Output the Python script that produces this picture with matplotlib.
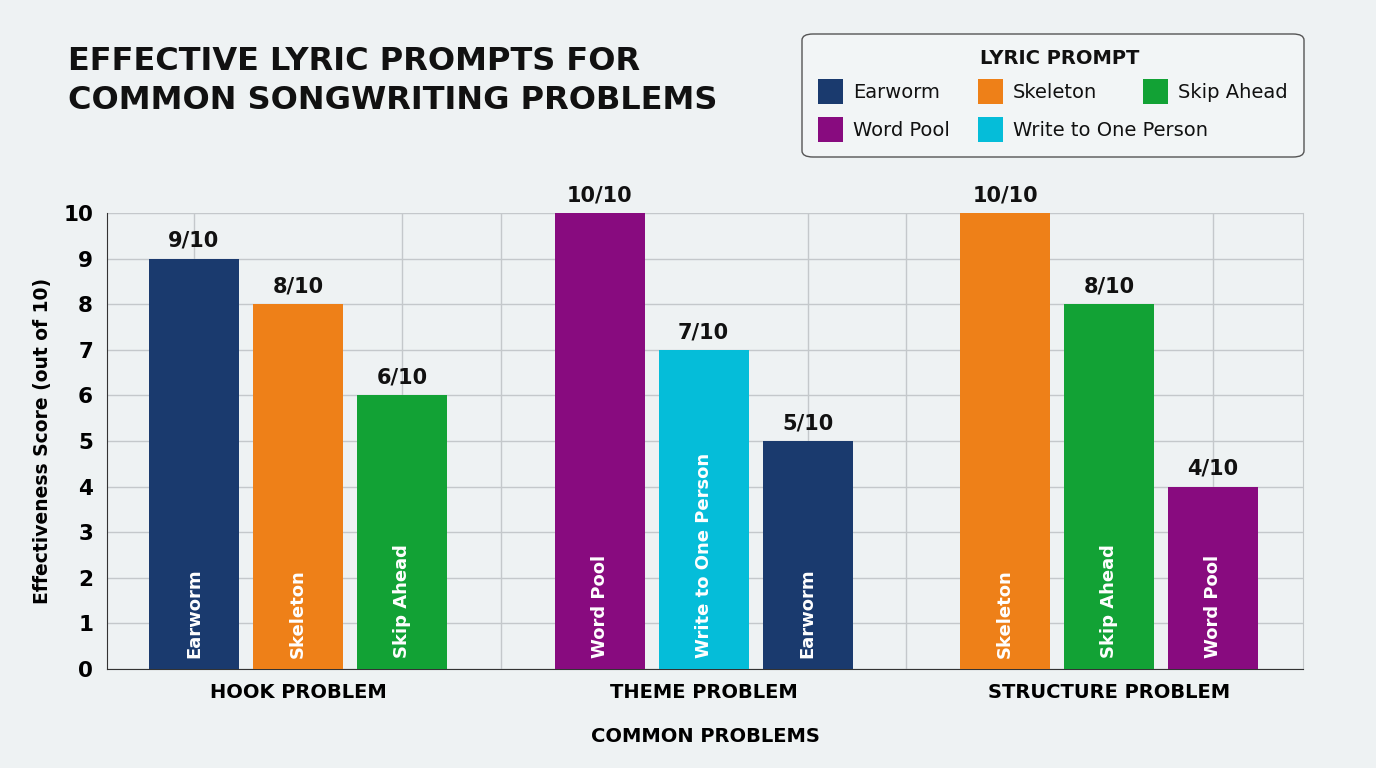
import matplotlib.pyplot as plt
import numpy as np
from matplotlib.patches import FancyBboxPatch, Rectangle

# chart data
problems = ["HOOK PROBLEM", "THEME PROBLEM", "STRUCTURE PROBLEM"]
prompt_names = [["Earworm", "Skeleton", "Skip Ahead"],
                ["Word Pool", "Write to One Person", "Earworm"],
                ["Skeleton", "Skip Ahead", "Word Pool"]]
scores = [[9, 8, 6],
          [10, 7, 5],
          [10, 8, 4]]

legend_order = ["Earworm", "Skeleton", "Skip Ahead", "Word Pool", "Write to One Person"]
colors = {"Earworm": "#1a3a6e",
          "Skeleton": "#ee8018",
          "Skip Ahead": "#12a235",
          "Word Pool": "#880b7f",
          "Write to One Person": "#05bdd9"}

bg = "#eef2f3"
plt.rcParams['font.family'] = ['DejaVu Sans']
W, H = 1376, 768

fig = plt.figure(figsize=(13.76, 7.68), dpi=100, facecolor=bg)
ax = fig.add_axes([107/W, 1-669/H, (1303-107)/W, (669-213)/H])
ax.set_facecolor(bg)

step = 0.2565
bar_w = 0.222
offsets = np.array([-1, 0, 1]) * step
centers = []
for g, (names, vals) in enumerate(zip(prompt_names, scores)):
    for k, (n, v) in enumerate(zip(names, vals)):
        x = g + offsets[k]
        centers.append(x)
        ax.bar(x, v, bar_w, color=colors[n], zorder=3)
        ax.text(x, v + 0.17, f"{v}/10", ha='center', va='bottom',
                fontsize=15, fontweight='bold', color='#111111', zorder=4)
        ax.text(x, 0.25, n, rotation=90, ha='center', va='bottom',
                fontsize=13, fontweight='bold', color='white', zorder=4)

ax.set_xlim(-0.471, 2.478)
ax.set_ylim(0, 10)
ax.set_yticks(range(0, 11))
ax.set_xticks(range(3))
ax.set_xticklabels(problems, fontsize=14, fontweight='bold')
ax.set_xticks(centers + [0.5, 1.5], minor=True)
ax.tick_params(axis='x', which='both', length=0, pad=10)
ax.tick_params(axis='y', length=0, labelsize=15.5, pad=10)
for lab in ax.get_yticklabels():
    lab.set_fontweight('bold')
ax.grid(axis='y', color='#c4c8cb', linewidth=1, zorder=0)
ax.grid(axis='x', which='minor', color='#c4c8cb', linewidth=1, zorder=0)
ax.grid(axis='x', which='major', visible=False)

ax.spines['top'].set_visible(False)
ax.spines['right'].set_color('#c4c8cb')
ax.spines['left'].set_color('#333333')
ax.spines['bottom'].set_color('#333333')

ax.set_ylabel("Effectiveness Score (out of 10)", fontsize=13.5, fontweight='bold', labelpad=8)
ax.set_xlabel("COMMON PROBLEMS", fontsize=14, fontweight='bold', labelpad=18)

fig.text(68/W, 1-81/H, "EFFECTIVE LYRIC PROMPTS FOR\nCOMMON SONGWRITING PROBLEMS",
         fontsize=23, fontweight='bold', va='center', ha='left', linespacing=1.3,
         color='#111111')

# legend box drawn by hand, so the entries sit like the reference
box = FancyBboxPatch((802/W, 1-157/H), (1304-802)/W, (157-34)/H,
                     boxstyle='round,pad=0,rounding_size=0.008',
                     transform=fig.transFigure, facecolor='#f2f5f6',
                     edgecolor='#555555', linewidth=1)
fig.patches.append(box)
fig.text(1060/W, 1-58/H, "LYRIC PROMPT", fontsize=14, fontweight='bold',
         ha='center', va='center', color='#111111')
col_x = [818, 978, 1143]
row_y = [92, 130]
for i, n in enumerate(legend_order):
    r, c = divmod(i, 3)
    x0, y0 = col_x[c], row_y[r]
    fig.patches.append(Rectangle((x0/W, 1-(y0+12)/H), 25/W, 25/H,
                                 transform=fig.transFigure,
                                 facecolor=colors[n], edgecolor='none'))
    fig.text((x0+35)/W, 1-y0/H, n, fontsize=14, ha='left', va='center',
             color='#111111')

fig.savefig("out.png", dpi=100, facecolor=bg)
